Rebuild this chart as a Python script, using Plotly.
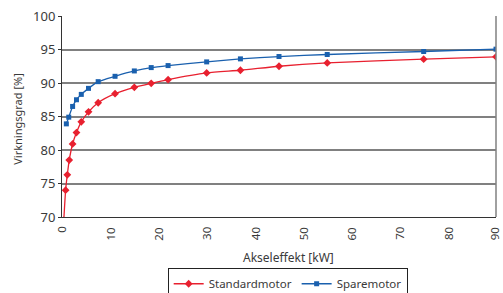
import plotly.graph_objects as go

# Data
std_kw = [0.37, 0.75, 1.1, 1.5, 2.2, 3, 4, 5.5, 7.5, 11, 15, 18.5, 22, 30, 37, 45, 55, 75, 90]
std_eff = [69.5, 74.0, 76.3, 78.5, 80.9, 82.6, 84.2, 85.7, 87.05, 88.4, 89.35, 89.95, 90.5, 91.5, 91.9, 92.5, 93.0, 93.55, 93.9]

spare_kw = [0.9, 1.4, 2.2, 3, 4, 5.5, 7.5, 11, 15, 18.5, 22, 30, 37, 45, 55, 75, 90]
spare_eff = [83.9, 84.9, 86.5, 87.5, 88.3, 89.2, 90.2, 91.0, 91.8, 92.3, 92.6, 93.15, 93.6, 93.95, 94.25, 94.7, 95.05]

x_ticks = [0, 10, 20, 30, 40, 50, 60, 70, 80, 90]
y_ticks = [70, 75, 80, 85, 90, 95, 100]

RED = "#E8202F"
BLUE = "#1A60AE"
TXT = "#3a3a3a"
FONT = "Noto Sans"

fig = go.Figure()
fig.add_trace(go.Scatter(
    x=std_kw, y=std_eff, name="Standardmotor", mode="lines+markers",
    line=dict(color=RED, width=1.3, shape="spline", smoothing=0.6),
    marker=dict(symbol="diamond", size=6, color=RED),
))
fig.add_trace(go.Scatter(
    x=spare_kw, y=spare_eff, name="Sparemotor", mode="lines+markers",
    line=dict(color=BLUE, width=1.3, shape="spline", smoothing=0.6),
    marker=dict(symbol="square", size=5, color=BLUE),
))

# rotated x tick labels, placed at the axis' tick values
tick_annotations = [
    dict(text=str(v), x=v, xref="x", y=-0.036, yref="paper",
         textangle=-90, xanchor="center", yanchor="top", showarrow=False,
         xshift=(-2 if v == x_ticks[-1] else 0),
         font=dict(size=11.5, color=TXT))
    for v in x_ticks
]

fig.update_layout(
    width=503, height=293,
    margin=dict(l=62, r=7, t=16, b=76, autoexpand=False),
    paper_bgcolor="white", plot_bgcolor="white",
    font=dict(family=FONT, color=TXT, size=12),
    showlegend=True,
    legend=dict(
        orientation="h", x=0.52, xanchor="center", y=-0.255, yanchor="top",
        bordercolor="#222222", borderwidth=1, font=dict(size=11.5, color=TXT),
        itemwidth=30, tracegroupgap=0, traceorder="normal",
    ),
    xaxis=dict(
        range=[0, 90], tickvals=x_ticks, showticklabels=False,
        showgrid=False, zeroline=False,
        showline=True, linecolor="#333333", linewidth=1, mirror=False,
        ticks="",
    ),
    yaxis=dict(
        range=[70, 100], tickvals=y_ticks, ticktext=[str(v) for v in y_ticks],
        showgrid=True, gridcolor="#808080", gridwidth=1.5, zeroline=False,
        showline=True, linecolor="#333333", linewidth=1,
        ticks="outside", ticklen=3, tickcolor="#333333",
        tickfont=dict(size=13, color=TXT), automargin=False,
    ),
    annotations=tick_annotations + [
        dict(text="Akseleffekt [kW]", xref="paper", yref="paper", x=0.521, y=-0.2,
             yanchor="middle", xanchor="center", showarrow=False,
             font=dict(size=12, color=TXT)),
        dict(text="Virkningsgrad [%]", xref="paper", yref="paper", x=-0.103, y=0.49,
             textangle=-90, xanchor="center", yanchor="middle", showarrow=False,
             font=dict(size=11, color=TXT)),
    ],
    shapes=[
        dict(type="line", xref="paper", yref="paper", x0=1, x1=1, y0=0, y1=1,
             line=dict(color="#808080", width=1.5)),
    ],
)

fig.write_html("out.html", config={"displayModeBar": False},
               post_script="document.body.style.margin='0';document.body.style.overflow='hidden';")
